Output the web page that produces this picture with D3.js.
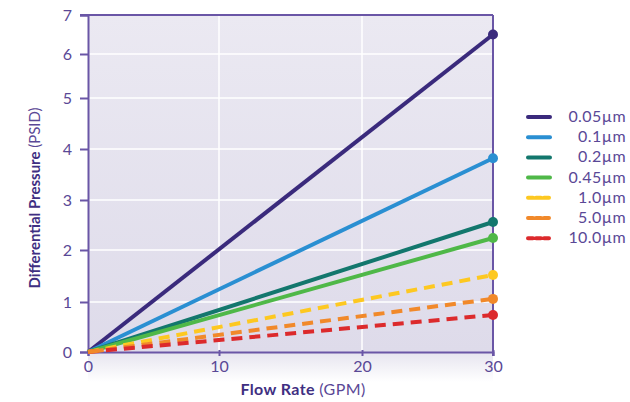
<!DOCTYPE html>
<html><head><meta charset="utf-8">
<script src="https://cdn.jsdelivr.net/npm/d3@7"></script>
<style>body{margin:0;background:#fff;}svg{display:block;font-family:"Lato","Open Sans",sans-serif;}</style>
</head><body><svg id="c" width="630" height="402"></svg>
<script>
const series = ["0.05µm","0.1µm","0.2µm","0.45µm","1.0µm","5.0µm","10.0µm"];
const flowRates = [0, 30];
const pressures = [
  [0, 6.5],
  [0, 3.82],
  [0, 2.56],
  [0, 2.24],
  [0, 1.52],
  [0, 1.06],
  [0, 0.74]
];
const colors = ["#3a2a7c","#2a8fd2","#13776d","#4fb848","#fdc821","#f1892a","#dc2a2c"];
const dashed = [false,false,false,false,true,true,true];
const xTicks = [0,10,20,30];
const yTicks = [0,1,2,3,4,5,6,7];

const svg = d3.select("#c");
const axisCol = "#6a56a6", textCol = "#5a4896", titleCol = "#3f2f82";
// piecewise scales matching the reference's slightly uneven spacing
const x = d3.scaleLinear().domain(xTicks).range([88,219,362,493]);
const y = d3.scaleLinear().domain(yTicks).range([352,302,250,200,149,98,54,15]);

const defs = svg.append("defs");
const g1 = defs.append("linearGradient").attr("id","bg").attr("x1",0).attr("y1",0).attr("x2",0).attr("y2",1);
g1.append("stop").attr("offset","0%").attr("stop-color","#ebe9f2");
g1.append("stop").attr("offset","100%").attr("stop-color","#dedbea");
const g2 = defs.append("linearGradient").attr("id","sh").attr("x1",0).attr("y1",0).attr("x2",0).attr("y2",1);
g2.append("stop").attr("offset","0%").attr("stop-color","#e6e4ef");
g2.append("stop").attr("offset","100%").attr("stop-color","#ffffff");

svg.append("rect").attr("x",x(0)).attr("y",y(0)).attr("width",x(30)-x(0)).attr("height",30).attr("fill","url(#sh)");
svg.append("rect").attr("x",x(0)).attr("y",y(7)).attr("width",x(30)-x(0)).attr("height",y(0)-y(7)).attr("fill","url(#bg)");

// grid
svg.append("g").selectAll("line").data(yTicks.filter(d=>d>0&&d<7)).join("line")
  .attr("x1",x(0)).attr("x2",x(30)).attr("y1",d=>y(d)).attr("y2",d=>y(d))
  .attr("stroke","#fff").attr("stroke-width",1.5);
svg.append("g").selectAll("line").data([10,20]).join("line")
  .attr("x1",d=>x(d)).attr("x2",d=>x(d)).attr("y1",y(0)).attr("y2",y(7))
  .attr("stroke","#fff").attr("stroke-width",1.5);

// axes
const xAxis = svg.append("g").attr("transform",`translate(0,${y(0)})`)
  .call(d3.axisBottom(x).tickValues(xTicks).tickFormat(d3.format("d")).tickSize(4).tickPadding(5));
const yAxis = svg.append("g").attr("transform",`translate(${x(0)},0)`)
  .call(d3.axisLeft(y).tickValues(yTicks).tickFormat(d3.format("d")).tickSize(8).tickPadding(8));
[xAxis,yAxis].forEach(a=>{
  a.select(".domain").attr("stroke",axisCol).attr("stroke-width",2);
  a.selectAll(".tick line").attr("stroke",axisCol).attr("stroke-width",2);
  a.selectAll("text").attr("fill",textCol).attr("font-size",16).attr("font-family","Lato,sans-serif");
});
xAxis.selectAll(".tick line").attr("y1",-2);
// top & right frame
svg.append("line").attr("x1",x(0)-8).attr("x2",x(30)).attr("y1",y(7)).attr("y2",y(7)).attr("stroke",axisCol).attr("stroke-width",2);
svg.append("line").attr("x1",x(30)).attr("x2",x(30)).attr("y1",y(7)).attr("y2",y(0)+4).attr("stroke",axisCol).attr("stroke-width",2);

// lines
const line = d3.line().x((d,i)=>x(flowRates[i])).y(d=>y(d));
series.forEach((s,i)=>{
  svg.append("path").datum(pressures[i]).attr("d",line)
    .attr("fill","none").attr("stroke",colors[i]).attr("stroke-width",4)
    .attr("stroke-linecap","butt")
    .attr("stroke-dasharray",dashed[i]?"11,7":null);
});
series.forEach((s,i)=>{
  svg.append("circle").attr("cx",x(flowRates[1])).attr("cy",y(pressures[i][1])).attr("r",5).attr("fill",colors[i]);
});
// origin marker
svg.append("path").datum([0,0.04]).attr("d",d3.line().x((d,i)=>x(i?1.2:0)).y(d=>y(d)))
  .attr("stroke",colors[5]).attr("stroke-width",4).attr("fill","none");

// legend
const lg = svg.append("g");
series.forEach((s,i)=>{
  const yy = 117 + i*20.2;
  lg.append("line").attr("x1",528).attr("x2",550).attr("y1",yy).attr("y2",yy)
    .attr("stroke",colors[i]).attr("stroke-width",4).attr("stroke-linecap","round")
    .attr("stroke-dasharray",dashed[i]?"5,3":null);
  lg.append("text").attr("x",626).attr("y",yy+5).attr("text-anchor","end")
    .attr("fill",textCol).attr("font-size",16).attr("letter-spacing",0.4).text(s);
});

// axis titles
const xt = svg.append("text").attr("x",303).attr("y",395).attr("text-anchor","middle").attr("fill",textCol).attr("font-size",16).attr("letter-spacing",0.4);
xt.append("tspan").attr("font-weight","bold").attr("fill",titleCol).text("Flow Rate ");
xt.append("tspan").text("(GPM)");
const yt = svg.append("text").attr("transform",`translate(40,198) rotate(-90)`).attr("text-anchor","middle").attr("fill",textCol).attr("font-size",15);
yt.append("tspan").attr("font-weight","bold").attr("fill",titleCol).text("Differential Pressure ");
yt.append("tspan").text("(PSID)");
</script></body></html>
